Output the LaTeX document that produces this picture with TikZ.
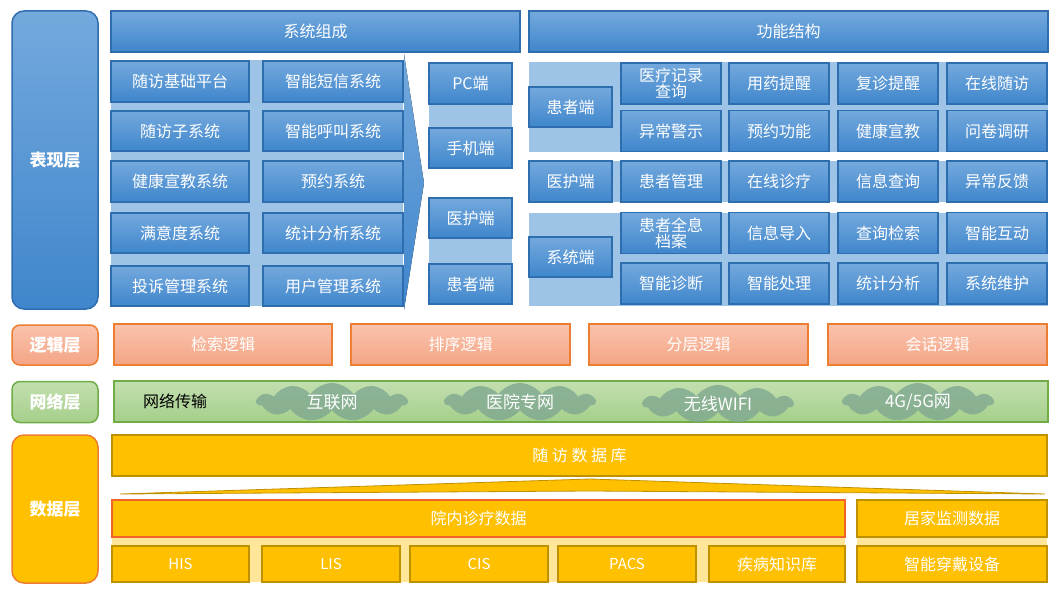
\documentclass[tikz,border=0pt]{standalone}
\usepackage{fontspec}
\setmainfont{Noto Sans CJK SC}
\usetikzlibrary{shapes.symbols}
\definecolor{bl1}{HTML}{74A9DD}
\definecolor{bl2}{HTML}{3F86CC}
\definecolor{blb}{HTML}{2E6DAE}
\definecolor{lbl}{HTML}{9DC3E6}
\definecolor{or1}{HTML}{F9C3AC}
\definecolor{or2}{HTML}{F4A585}
\definecolor{orb}{HTML}{ED7D31}
\definecolor{gr1}{HTML}{C3DFB0}
\definecolor{gr2}{HTML}{A5CF8A}
\definecolor{grb}{HTML}{70AD47}
\definecolor{cl}{HTML}{7FA890}
\definecolor{ye}{HTML}{FFC000}
\definecolor{yeb}{HTML}{BF9000}
\definecolor{lye}{HTML}{FFE699}
\tikzset{
 box/.style={draw=blb,line width=1.2pt,top color=bl1,bottom color=bl2,text=white,font=\fontsize{16}{17}\selectfont,inner sep=0pt},
 layer/.style={rounded corners=12pt,line width=1.5pt,text=white,font=\bfseries\fontsize{17}{18}\selectfont},
 lg/.style={draw=orb,line width=1.5pt,top color=or1,bottom color=or2,text=white,font=\fontsize{16}{17}\selectfont},
 yb/.style={draw=yeb,line width=1.2pt,fill=ye,text=white,font=\fontsize{16}{17}\selectfont},
 cloudn/.style={cloud,cloud puffs=11,cloud puff arc=110,aspect=4,fill=cl,fill opacity=0.8,minimum width=150pt,minimum height=38pt,inner sep=0pt},
 nt/.style={text=white,font=\fontsize{17}{18}\selectfont}
}
\newcommand{\bx}[6][box]{\node[#1,minimum width=#4-#2,minimum height=#5-#3] (#6) at ({(#2+#4)/2},{(#3+#5)/2}) {};}
\begin{document}
\begin{tikzpicture}[x=1pt,y=-1pt]
\useasboundingbox (0,0) rectangle (1060,594);
% layer labels
\node[layer,draw=blb,top color=bl1,bottom color=bl2,minimum width=86,minimum height=298] (Lbx) at (55,160) {表现层};
\node[layer,draw=orb,top color=or1,bottom color=or2,rounded corners=8pt,minimum width=86,minimum height=40] (Llj) at (55,345) {逻辑层};
\node[layer,draw=grb,top color=gr1,bottom color=gr2,rounded corners=8pt,minimum width=86,minimum height=41] (Lwl) at (55,402) {网络层};
\node[layer,draw=orb,fill=ye,minimum width=86,minimum height=148] (Lsj) at (55,509) {数据层};
% backgrounds
\fill[lbl] (111,60) rectangle (403,306);
\fill[lbl] (429,104) rectangle (512,128);
\fill[lbl] (429,238) rectangle (512,264);
\fill[lbl] (529,62) rectangle (1048,152);
\fill[lbl] (529,161) rectangle (1048,202);
\fill[lbl] (529,213) rectangle (1048,306);
% headers
\node[box,minimum width=409,minimum height=41] (h1) at (315.5,31.5) {系统组成};
\node[box,minimum width=519,minimum height=41] (h2) at (788.5,31.5) {功能结构};
% arrow
\fill[top color=bl1,bottom color=bl2] (404,54) -- (424,183) -- (404,310) -- cycle;
% left grid
\foreach \t [count=\i] in {随访基础平台,随访子系统,健康宣教系统,满意度系统,投诉管理系统}{}
\def\rowA{61/102,111/151,161/202,213/253,266/306}
\node[box,minimum width=138,minimum height=41] (a1) at (180,81.5) {随访基础平台};
\node[box,minimum width=140,minimum height=41] (b1) at (333,81.5) {智能短信系统};
\node[box,minimum width=138,minimum height=40] (a2) at (180,131) {随访子系统};
\node[box,minimum width=140,minimum height=40] (b2) at (333,131) {智能呼叫系统};
\node[box,minimum width=138,minimum height=41] (a3) at (180,181.5) {健康宣教系统};
\node[box,minimum width=140,minimum height=41] (b3) at (333,181.5) {预约系统};
\node[box,minimum width=138,minimum height=40] (a4) at (180,233) {满意度系统};
\node[box,minimum width=140,minimum height=40] (b4) at (333,233) {统计分析系统};
\node[box,minimum width=138,minimum height=40] (a5) at (180,286) {投诉管理系统};
\node[box,minimum width=140,minimum height=40] (b5) at (333,286) {用户管理系统};
% terminals
\node[box,minimum width=83,minimum height=41] (t1) at (470.5,83.5) {PC端};
\node[box,minimum width=83,minimum height=40] (t2) at (470.5,148) {手机端};
\node[box,minimum width=83,minimum height=40] (t3) at (470.5,218) {医护端};
\node[box,minimum width=83,minimum height=40] (t4) at (470.5,284) {患者端};
% function structure
\node[box,minimum width=83,minimum height=40] (p0) at (570.5,107) {患者端};
\node[box,minimum width=83,minimum height=41] (d0) at (570.5,181.5) {医护端};
\node[box,minimum width=83,minimum height=40] (s0) at (570.5,257) {系统端};
\tikzset{fc/.style={box,minimum width=100,minimum height=41}}
\node[fc,align=center,font=\fontsize{16}{16}\selectfont] (p1) at (671,83.5) {医疗记录\\查询};
\node[fc] (p2) at (779,83.5) {用药提醒};
\node[fc] (p3) at (888,83.5) {复诊提醒};
\node[fc] (p4) at (997,83.5) {在线随访};
\node[fc] (p5) at (671,131) {异常警示};
\node[fc] (p6) at (779,131) {预约功能};
\node[fc] (p7) at (888,131) {健康宣教};
\node[fc] (p8) at (997,131) {问卷调研};
\node[fc] (d1) at (671,181.5) {患者管理};
\node[fc] (d2) at (779,181.5) {在线诊疗};
\node[fc] (d3) at (888,181.5) {信息查询};
\node[fc] (d4) at (997,181.5) {异常反馈};
\node[fc,align=center,font=\fontsize{16}{16}\selectfont] (s1) at (671,233) {患者全息\\档案};
\node[fc] (s2) at (779,233) {信息导入};
\node[fc] (s3) at (888,233) {查询检索};
\node[fc] (s4) at (997,233) {智能互动};
\node[fc] (s5) at (671,283.5) {智能诊断};
\node[fc] (s6) at (779,283.5) {智能处理};
\node[fc] (s7) at (888,283.5) {统计分析};
\node[fc] (s8) at (997,283.5) {系统维护};
% logic
\node[lg,minimum width=218,minimum height=41] (g1) at (223,344.5) {检索逻辑};
\node[lg,minimum width=219,minimum height=41] (g2) at (460.5,344.5) {排序逻辑};
\node[lg,minimum width=219,minimum height=41] (g3) at (698.5,344.5) {分层逻辑};
\node[lg,minimum width=219,minimum height=41] (g4) at (937.5,344.5) {会话逻辑};
% network
\node[draw=grb,line width=1.5pt,top color=gr1,bottom color=gr2,minimum width=934,minimum height=41] (net) at (581,401.5) {};
\node[font=\fontsize{16}{17}\selectfont] (nt0) at (175,401) {网络传输};
\node[cloudn] (c1) at (332,402) {};
\node[cloudn] (c2) at (520,402) {};
\node[cloudn] (c3) at (718,404) {};
\node[cloudn] (c4) at (918,402) {};
\node[nt] (n1) at (332,402) {互联网};
\node[nt] (n2) at (520,402) {医院专网};
\node[nt] (n3) at (718,404) {无线WIFI};
\node[nt] (n4) at (918,402) {4G/5G网};
% data
\node[yb,minimum width=935,minimum height=41] (db) at (579.5,455.5) {随 访 数 据 库};
\fill[ye,draw=yeb,line width=0.8pt] (120,494) -- (590,479) -- (1045,494) -- (590,491) -- cycle;
\fill[lye] (112,537) rectangle (845,582);
\fill[lye] (857,537) rectangle (1047,582);
\node[yb,draw=orb!80!red,minimum width=733,minimum height=37] (yn) at (478.5,518.5) {院内诊疗数据};
\node[yb,minimum width=190,minimum height=37] (jj) at (952,518.5) {居家监测数据};
\tikzset{dc/.style={yb,minimum height=36,font=\fontsize{15}{16}\selectfont}}
\node[dc,minimum width=137] (e1) at (180.5,564) {HIS};
\node[dc,minimum width=138] (e2) at (331,564) {LIS};
\node[dc,minimum width=138] (e3) at (479,564) {CIS};
\node[dc,minimum width=138] (e4) at (627,564) {PACS};
\node[dc,minimum width=136,font=\fontsize{16}{17}\selectfont] (e5) at (777,564) {疾病知识库};
\node[dc,minimum width=190,font=\fontsize{16}{17}\selectfont] (e6) at (952,564) {智能穿戴设备};
\end{tikzpicture}
\end{document}
